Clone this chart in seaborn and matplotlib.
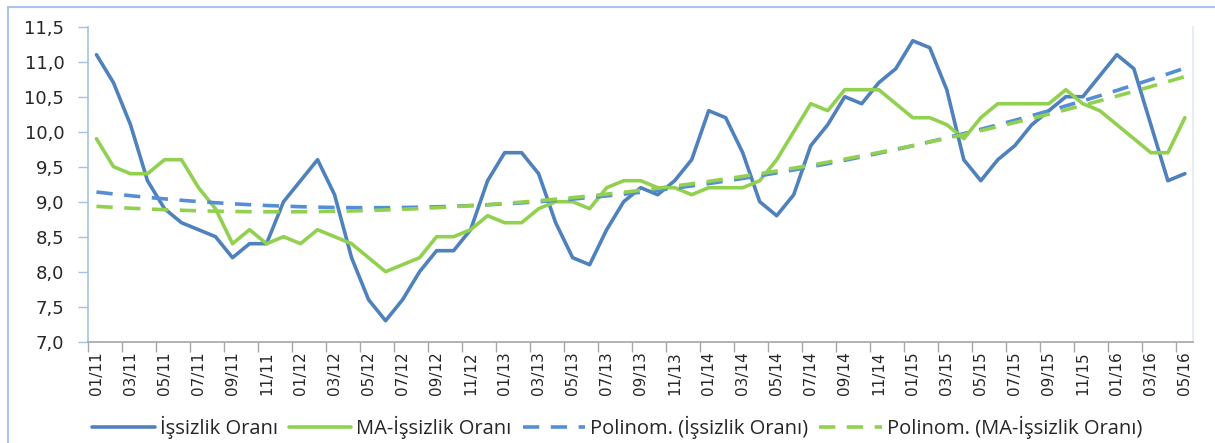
import numpy as np
import pandas as pd
import seaborn as sns
import matplotlib.pyplot as plt
from matplotlib.lines import Line2D
from matplotlib.ticker import FuncFormatter, MultipleLocator

# monthly data, 01/2011 - 05/2016
months = pd.date_range("2011-01-01", "2016-05-01", freq="MS").strftime("%m/%y").tolist()

issizlik = [11.1, 10.7, 10.1, 9.3, 8.9, 8.7, 8.6, 8.5, 8.2, 8.4, 8.4, 9.0,
            9.3, 9.6, 9.1, 8.2, 7.6, 7.3, 7.6, 8.0, 8.3, 8.3, 8.6, 9.3,
            9.7, 9.7, 9.4, 8.7, 8.2, 8.1, 8.6, 9.0, 9.2, 9.1, 9.3, 9.6,
            10.3, 10.2, 9.7, 9.0, 8.8, 9.1, 9.8, 10.1, 10.5, 10.4, 10.7, 10.9,
            11.3, 11.2, 10.6, 9.6, 9.3, 9.6, 9.8, 10.1, 10.3, 10.5, 10.5, 10.8,
            11.1, 10.9, 10.1, 9.3, 9.4]

ma_issizlik = [9.9, 9.5, 9.4, 9.4, 9.6, 9.6, 9.2, 8.9, 8.4, 8.6, 8.4, 8.5,
               8.4, 8.6, 8.5, 8.4, 8.2, 8.0, 8.1, 8.2, 8.5, 8.5, 8.6, 8.8,
               8.7, 8.7, 8.9, 9.0, 9.0, 8.9, 9.2, 9.3, 9.3, 9.2, 9.2, 9.1,
               9.2, 9.2, 9.2, 9.3, 9.6, 10.0, 10.4, 10.3, 10.6, 10.6, 10.6, 10.4,
               10.2, 10.2, 10.1, 9.9, 10.2, 10.4, 10.4, 10.4, 10.4, 10.6, 10.4, 10.3,
               10.1, 9.9, 9.7, 9.7, 10.2]

tick_labels = months[::2]

blue = "#4F81BD"
green = "#92D050"
blue_trend = "#558ED5"

idx = np.arange(len(months))
# Excel style polynomial (order 2) trend lines
trend_a = np.polyval(np.polyfit(idx, issizlik, 2), idx)
trend_b = np.polyval(np.polyfit(idx, ma_issizlik, 2), idx)

df = pd.DataFrame({"i": idx, "a": issizlik, "b": ma_issizlik,
                   "ta": trend_a, "tb": trend_b})

sns.set_style("white")
fig = plt.figure(figsize=(12.15, 4.43), dpi=100)
ax = fig.add_axes([0.0724, 0.2287, 0.9098, 0.711])

sns.lineplot(data=df, x="i", y="a", ax=ax, color=blue, lw=2.6, label="İşsizlik Oranı")
sns.lineplot(data=df, x="i", y="b", ax=ax, color=green, lw=2.6, label="MA-İşsizlik Oranı")
sns.lineplot(data=df, x="i", y="ta", ax=ax, color=blue_trend, lw=2.6,
             label="Polinom. (İşsizlik Oranı)")
sns.lineplot(data=df, x="i", y="tb", ax=ax, color=green, lw=2.6,
             label="Polinom. (MA-İşsizlik Oranı)")
for ln in ax.lines[2:]:
    ln.set_dashes((4.5, 3.2))

ax.set_xlim(-0.5, len(months) - 0.5)
ax.set_ylim(7.0, 11.5)
ax.yaxis.set_major_locator(MultipleLocator(0.5))
ax.yaxis.set_major_formatter(FuncFormatter(lambda v, p: f"{v:.1f}".replace(".", ",")))
ax.set_xticks(idx[::2])
ax.set_xticklabels(tick_labels, rotation=90, fontsize=11)
ax.set_xticks(np.arange(-0.5, len(months) - 1, 2), minor=True)
ax.tick_params(axis="x", which="major", length=0, pad=7)
ax.tick_params(axis="x", which="minor", length=7, color="#A6A6A6", width=1, bottom=True)
ax.tick_params(axis="y", length=7, color="#A6C1E6", width=1, left=True, labelsize=13, pad=10)
ax.set_xlabel("")
ax.set_ylabel("")

ax.spines["top"].set_visible(False)
ax.spines["left"].set_color("#A6C1E6")
ax.spines["bottom"].set_color("#A6A6A6")
ax.spines["right"].set_color("#E3EAF4")
for s in ["left", "bottom", "right"]:
    ax.spines[s].set_linewidth(1.2)

leg = ax.legend(loc="center", bbox_to_anchor=(0.508, 0.036), bbox_transform=fig.transFigure,
                ncol=4, frameon=False, handlelength=3.1, handletextpad=0.25, columnspacing=0.55,
                prop={"family": ["Open Sans", "DejaVu Sans"], "size": 14.5})
for t in leg.get_texts():
    t.set_color("#262626")

# chart area border (top and left visible)
fig.add_artist(Line2D([8 / 1215, 1], [1 - 7 / 443, 1 - 7 / 443], transform=fig.transFigure,
                      color="#A9C4EB", lw=1.5))
fig.add_artist(Line2D([8 / 1215, 8 / 1215], [0, 1 - 7 / 443], transform=fig.transFigure,
                      color="#A9C4EB", lw=1.5))

fig.savefig("out.png", dpi=100)
